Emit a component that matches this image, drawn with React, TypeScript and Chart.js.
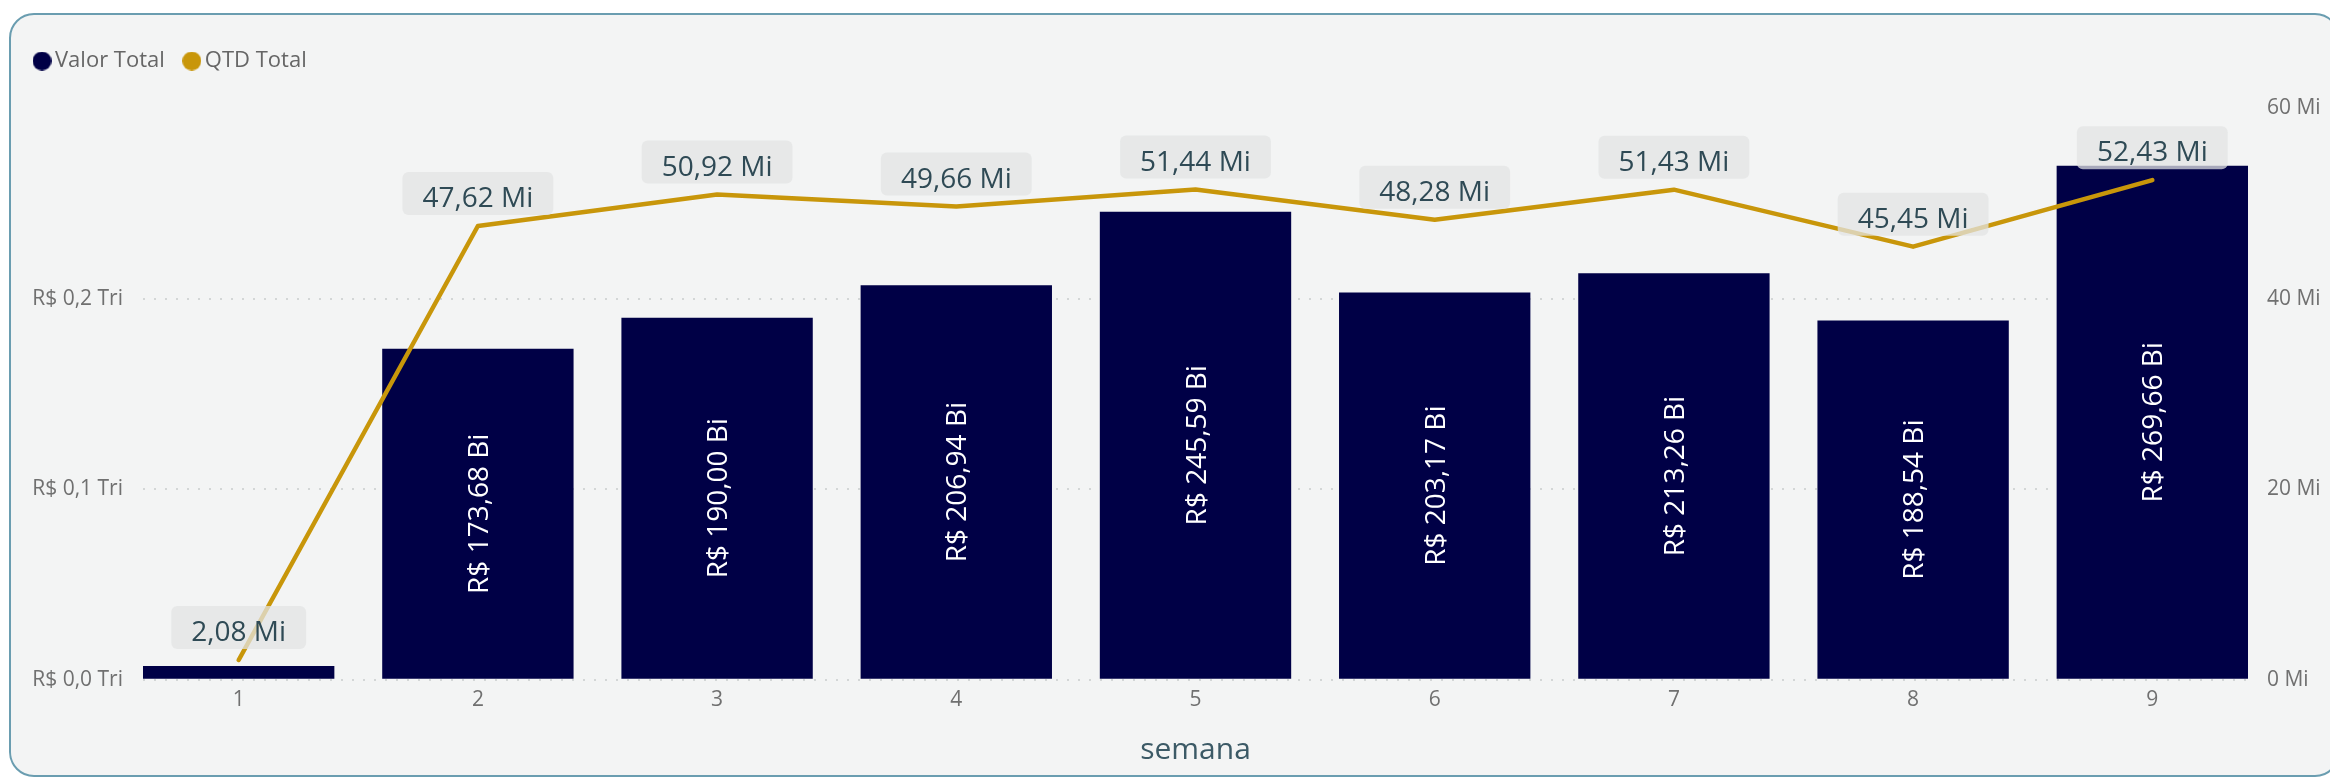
import React, { useEffect, useRef } from 'react';
import { Chart, registerables } from 'chart.js';

Chart.register(...registerables);

// ---- data ----
const semanas = [1, 2, 3, 4, 5, 6, 7, 8, 9];
const valorTotalBi = [7.2, 173.68, 190.0, 206.94, 245.59, 203.17, 213.26, 188.54, 269.66];
const qtdTotalMi = [2.08, 47.62, 50.92, 49.66, 51.44, 48.28, 51.43, 45.45, 52.43];
const leftTicksBi = [0, 100, 200, 300];
const rightTicksMi = [0, 20, 40, 60];
const seriesNames = ['Valor Total', 'QTD Total'];
const axisTitle = 'semana';

const BAR_COLOR = '#000046';
const LINE_COLOR = '#c8960a';
const FONT = "'Open Sans', 'Noto Sans', sans-serif";

const fmt2 = (v: number) => v.toFixed(2).replace('.', ',');
const fmtTri = (bi: number) => `R$ ${(bi / 1000).toFixed(1).replace('.', ',')} Tri`;

function makeDot(color: string, d: number) {
  const c = document.createElement('canvas');
  c.width = d;
  c.height = d;
  const x = c.getContext('2d')!;
  x.fillStyle = color;
  x.beginPath();
  x.arc(d / 2, d / 2, d / 2, 0, Math.PI * 2);
  x.fill();
  return c;
}

const legendGap = {
  id: 'legendGap',
  beforeLayout(chart: any) {
    const lg = chart.legend;
    if (lg && !lg._gapPatched) {
      const orig = lg.fit;
      lg.fit = function () {
        orig.call(this);
        this.height += 26;
      };
      lg._gapPatched = true;
    }
  },
};

const labelPlugin = {
  id: 'pbiLabels',
  afterDatasetsDraw(chart: any) {
    const ctx = chart.ctx as CanvasRenderingContext2D;
    ctx.save();
    // bar labels (rotated, inside)
    const barMeta = chart.getDatasetMeta(0);
    ctx.font = `28px ${FONT}`;
    barMeta.data.forEach((bar: any, i: number) => {
      const { x, y, base } = bar.getProps(['x', 'y', 'base'], true);
      const h = Math.abs(base - y);
      const text = `R$ ${fmt2(valorTotalBi[i])} Bi`;
      const w = ctx.measureText(text).width;
      if (w + 16 > h) return;
      ctx.save();
      ctx.translate(x, (y + base) / 2);
      ctx.rotate(-Math.PI / 2);
      ctx.fillStyle = '#ffffff';
      ctx.textAlign = 'center';
      ctx.textBaseline = 'alphabetic';
      ctx.fillText(text, 0, 10);
      ctx.restore();
    });
    // line labels (boxed, above)
    const lineMeta = chart.getDatasetMeta(1);
    ctx.font = `28px ${FONT}`;
    lineMeta.data.forEach((pt: any, i: number) => {
      const { x, y } = pt.getProps(['x', 'y'], true);
      const text = `${fmt2(qtdTotalMi[i])} Mi`;
      const w = ctx.measureText(text).width;
      const bw = w + 40;
      const bh = 43;
      const bottom = y - 11;
      const top = bottom - bh;
      ctx.beginPath();
      (ctx as any).roundRect(x - bw / 2, top, bw, bh, 6);
      ctx.fillStyle = 'rgba(226,228,228,0.74)';
      ctx.fill();
      ctx.fillStyle = '#2f4a55';
      ctx.textAlign = 'center';
      ctx.textBaseline = 'alphabetic';
      ctx.fillText(text, x, bottom - 8);
    });
    ctx.restore();
  },
};

export default function App() {
  const canvasRef = useRef<HTMLCanvasElement | null>(null);

  useEffect(() => {
    if (!canvasRef.current) return;
    const dots = [makeDot(BAR_COLOR, 19), makeDot(LINE_COLOR, 19)];
    const chart = new Chart(canvasRef.current, {
      type: 'bar',
      data: {
        datasets: [
          {
            type: 'bar',
            label: seriesNames[0],
            data: semanas.map((s, i) => ({ x: s, y: valorTotalBi[i] })),
            backgroundColor: BAR_COLOR,
            borderWidth: 0,
            yAxisID: 'y',
            order: 2,
            categoryPercentage: 0.8,
            barPercentage: 1,
          } as any,
          {
            type: 'line',
            label: seriesNames[1],
            data: semanas.map((s, i) => ({ x: s, y: qtdTotalMi[i] })),
            borderColor: LINE_COLOR,
            backgroundColor: LINE_COLOR,
            borderWidth: 4.5,
            pointRadius: 0,
            tension: 0,
            borderCapStyle: 'round',
            borderJoinStyle: 'round',
            yAxisID: 'y1',
            order: 1,
          } as any,
        ],
      },
      options: {
        animation: false,
        responsive: true,
        maintainAspectRatio: false,
        layout: { padding: { left: 15, right: 7, top: 25, bottom: 11 } },
        plugins: {
          tooltip: { enabled: false },
          legend: {
            display: true,
            position: 'top',
            align: 'start',
            labels: {
              usePointStyle: true,
              pointStyleWidth: 4,
              boxHeight: 13,
              padding: 25,
              color: '#666666',
              font: { family: FONT, size: 22 },
              sort: (a: any, b: any) => a.datasetIndex - b.datasetIndex,
              generateLabels: (chart: any) => {
                const items = Chart.defaults.plugins.legend.labels.generateLabels(chart);
                return items.map((it: any) => {
                  const c = it.datasetIndex === 0 ? BAR_COLOR : LINE_COLOR;
                  return {
                    ...it,
                    fillStyle: c,
                    strokeStyle: c,
                    lineWidth: 0,
                    pointStyle: dots[it.datasetIndex],
                  };
                });
              },
            },
          },
        },
        scales: {
          x: {
            type: 'linear',
            offset: false,
            min: semanas[0] - 0.4,
            max: semanas[semanas.length - 1] + 0.4,
            afterBuildTicks: (scale: any) => {
              scale.ticks = semanas.map((v) => ({ value: v }));
            },
            grid: { display: false, drawTicks: false },
            border: { display: false },
            ticks: {
              padding: 8,
              autoSkip: false,
              maxRotation: 0,
              color: '#707070',
              font: { family: FONT, size: 21 },
            },
            title: {
              display: true,
              text: axisTitle,
              color: '#3c5a66',
              font: { family: FONT, size: 30 },
              padding: { top: 11, bottom: 0 },
            },
          },
          y: {
            type: 'linear',
            position: 'left',
            min: leftTicksBi[0],
            max: leftTicksBi[leftTicksBi.length - 1],
            afterBuildTicks: (scale: any) => {
              scale.ticks = leftTicksBi.map((v) => ({ value: v }));
            },
            afterFit: (scale: any) => {
              scale.width = 128;
            },
            grid: {
              drawTicks: false,
              lineWidth: 2,
              color: (ctx: any) =>
                ctx.tick && ctx.tick.value === leftTicksBi[leftTicksBi.length - 1]
                  ? 'rgba(0,0,0,0)'
                  : '#d3d6d6',
            },
            border: { display: false, dash: [2, 9] },
            ticks: {
              padding: 20,
              color: '#707070',
              font: { family: FONT, size: 21 },
              callback: (v: any) =>
                Number(v) === leftTicksBi[leftTicksBi.length - 1] ? '' : fmtTri(Number(v)),
            },
          },
          y1: {
            type: 'linear',
            position: 'right',
            min: rightTicksMi[0],
            max: rightTicksMi[rightTicksMi.length - 1],
            afterBuildTicks: (scale: any) => {
              scale.ticks = rightTicksMi.map((v) => ({ value: v }));
            },
            afterFit: (scale: any) => {
              scale.width = 75;
            },
            grid: { display: false, drawTicks: false },
            border: { display: false },
            ticks: {
              padding: 19,
              color: '#707070',
              font: { family: FONT, size: 21 },
              callback: (v: any) => `${v} Mi`,
            },
          },
        },
      } as any,
      plugins: [legendGap, labelPlugin],
    });
    return () => chart.destroy();
  }, []);

  return (
    <>
      <div
        style={{
          position: 'fixed',
          left: 9,
          top: 13,
          width: 2331,
          height: 764,
          boxSizing: 'border-box',
          border: '2px solid #6a9db0',
          borderRadius: 25,
          background: '#f3f4f4',
        }}
      />
      <div style={{ position: 'fixed', left: 0, top: 0, width: 2330, height: 779 }}>
        <canvas ref={canvasRef} />
      </div>
    </>
  );
}
